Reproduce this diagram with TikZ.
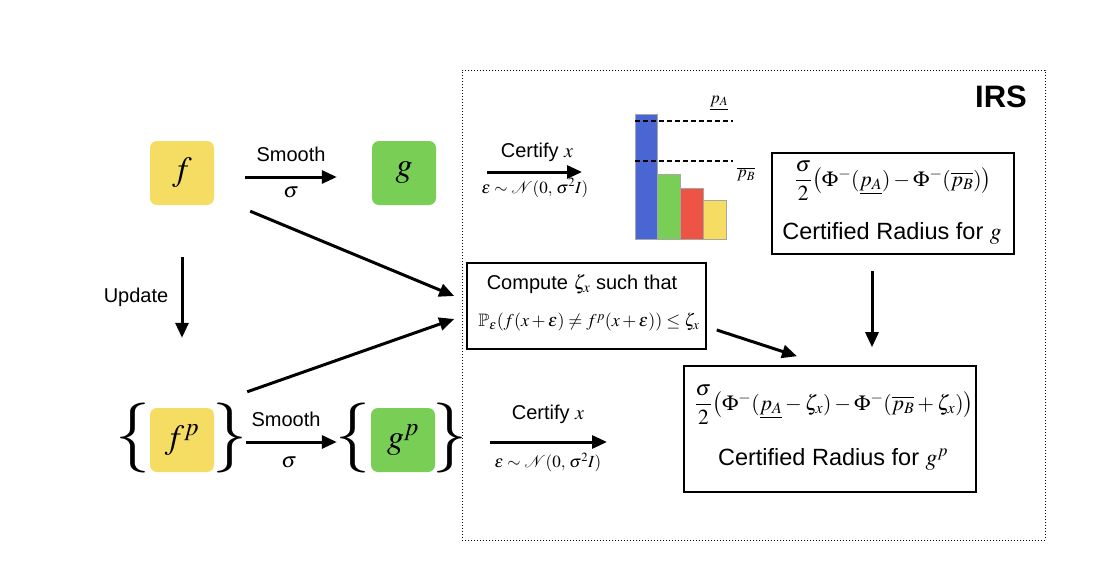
\documentclass[tikz,border=0pt]{standalone}
\usepackage{amsmath,amssymb}
\usepackage{mathptmx}
\usepackage{fontspec}
\setsansfont{Liberation Sans}
\usetikzlibrary{arrows.meta,calc}
\definecolor{fyellow}{HTML}{F5DC62}
\definecolor{ggreen}{HTML}{79CE55}
\definecolor{bblue}{HTML}{4A66D3}
\definecolor{bred}{HTML}{EE5444}
\begin{document}
\begin{tikzpicture}[x=1pt,y=-1pt,
  every node/.style={inner sep=0pt, font=\sffamily\fontsize{20}{23}\selectfont},
  arr/.style={line width=3pt, -{Triangle[length=15pt,width=13pt]}},
  ybox/.style={rounded corners=7pt, minimum width=64pt, minimum height=64pt, fill=fyellow, font=\fontsize{34}{40}\selectfont},
  gbox/.style={rounded corners=7pt, minimum width=64pt, minimum height=64pt, fill=ggreen, font=\fontsize{34}{40}\selectfont},
  mth/.style={font=\fontsize{17}{20}\selectfont},
  midmth/.style={font=\fontsize{18}{21}\selectfont},
  bigmth/.style={font=\fontsize{21.5}{25}\selectfont},
  crt/.style={font=\sffamily\fontsize{23.5}{27}\selectfont},
  brc/.style={font=\fontsize{70}{70}\selectfont},
  frame/.style={draw, line width=1.6pt},
  bar/.style={draw=gray!70, line width=0.6pt},
  dsh/.style={line width=1.5pt, dash pattern=on 5pt off 3pt},
]
\useasboundingbox[fill=white] (0,0) rectangle (1114,562);

% IRS dotted frame
\node[draw, dotted, line width=1pt, minimum width=583pt, minimum height=470pt] (irs) at (753.5,305) {};
\node[font=\sffamily\bfseries\fontsize{31}{35}\selectfont] (irslbl) at (1001,97) {IRS};

% left column nodes
\node[ybox] (f) at (182,173) {$f$};
\node[gbox] (g) at (404,173) {$g$};
\node[ybox] (fp) at (182,440) {$f^{p}$};
\node[gbox] (gp) at (403,440) {$g^{p}$};
\node[brc] (fpl) at (133,438) {$\{$};
\node[brc] (fpr) at (230,438) {$\}$};
\node[brc] (gpl) at (353,438) {$\{$};
\node[brc] (gpr) at (450,438) {$\}$};

% Smooth arrows
\draw[arr] ($(f.east)+(31,4)$) -- ($(g.west)+(-35,4)$);
\node (sm1) at (291,154) {Smooth};
\node[bigmth] (sg1) at (291,192) {$\sigma$};
\draw[arr] ($(fp.east)+(32,2)$) -- ($(gp.west)+(-34,2)$);
\node (sm2) at (286,419) {Smooth};
\node[bigmth] (sg2) at (289,462) {$\sigma$};

% Update arrow
\draw[arr] ($(f.south)+(0,52)$) -- ($(fp.north)+(0,-70)$);
\node (upd) at (136,297) {Update};

% Certify arrows
\coordinate (c1e) at (582,172);
\draw[arr] ($(g.east)+(51,-1)$) -- (c1e);
\node (cx1) at (537,152) {Certify $x$};
\node[mth] (eps1) at (535,188) {$\epsilon\sim\mathcal{N}(0,\,\sigma^{2}I)$};
\coordinate (c2e) at (607,442);
\draw[arr] ($(gp.east)+(55,2)$) -- (c2e);
\node (cx2) at (548,414) {Certify $x$};
\node[mth] (eps2) at (548,462) {$\epsilon\sim\mathcal{N}(0,\,\sigma^{2}I)$};

% bars
\filldraw[bar, fill=bblue] (635,114) rectangle (657,239);
\filldraw[bar, fill=ggreen] (657,174) rectangle (680,239);
\filldraw[bar, fill=bred] (680,188) rectangle (703,239);
\filldraw[bar, fill=fyellow] (703,200) rectangle (726,239);
\draw[dsh] (635,121) -- (733,121);
\draw[dsh] (635,161) -- (733,161);
\node[mth] (pa) at (719,103) {$\underline{p_A}$};
\node[mth] (pb) at (746,174) {$\overline{p_B}$};

% certified radius for g
\node[frame, minimum width=242pt, minimum height=101pt] (rg) at (893,203.5) {};
\node[bigmth] (rgf) at (893,181) {$\dfrac{\sigma}{2}\bigl(\Phi^{-}(\underline{p_A})-\Phi^{-}(\overline{p_B})\bigr)$};
\node[crt] (rgt) at (892,233) {Certified Radius for $g$};

% compute box
\node[frame, minimum width=239pt, minimum height=86pt] (cb) at (586.5,306) {};
\node (cbt) at (582,284) {Compute $\zeta_x$ such that};
\node[midmth] (cbf) at (589,322) {$\mathbb{P}_{\epsilon}(f(x+\epsilon)\neq f^{p}(x+\epsilon))\le\zeta_x$};

% certified radius for g^p
\node[frame, minimum width=292pt, minimum height=126pt] (rgp) at (830,429) {};
\node[bigmth] (rgpf) at (834,405) {$\dfrac{\sigma}{2}\bigl(\Phi^{-}(\underline{p_A}-\zeta_x)-\Phi^{-}(\overline{p_B}+\zeta_x)\bigr)$};
\node[crt] (rgpt) at (833,459) {Certified Radius for $g^{p}$};

% arrows into compute box and final box
\draw[arr] ($(f.south east)+(36,6)$) -- ($(cb.west)+(-12,-10)$);
\draw[arr] ($(fp.north east)+(33,-16)$) -- ($(cb.west)+(-12,13)$);
\draw[arr] ($(cb.east)+(10,24)$) -- ($(rgp.north)+(-33,-9)$);
\draw[arr] ($(rg.south)+(-21,16)$) -- ($(rgp.north)+(42,-18)$);
\end{tikzpicture}
\end{document}
